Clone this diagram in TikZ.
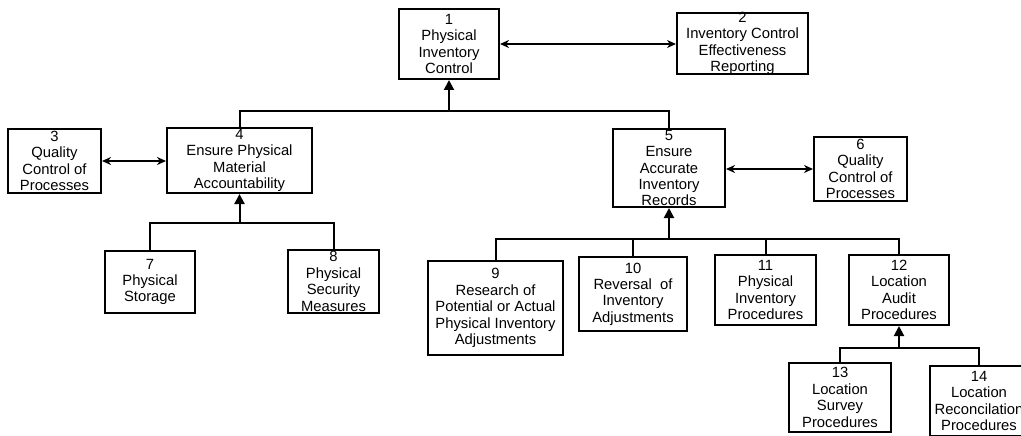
\documentclass[tikz,border=0pt]{standalone}
\usepackage{fontspec}
\setmainfont{Liberation Sans}
\usetikzlibrary{arrows.meta}

\begin{document}
\begin{tikzpicture}[x=1pt, y=-1pt,
        box/.style={draw, line width=2pt, inner sep=0pt},
        txt/.style={align=center, inner sep=0pt, font=\fontsize{14.8}{16.4}\selectfont},
        link/.style={line width=2pt},
        tree/.style={line width=2pt, -{Triangle[width=10pt, length=10pt]}},
        dbl/.style={line width=2pt, {Stealth[length=9pt, width=8pt]}-{Stealth[length=9pt, width=8pt]}}]
            \clip (0,0) rectangle (1021,436);

            % top level
            \node[box, minimum width=100pt, minimum height=70pt] (n1) at (449,44) {};
            \node[txt] at (n1) {1\\Physical\\Inventory\\Control};
            \node[box, minimum width=131pt, minimum height=61pt] (n2) at (742.5,43.5) {};
            \node[txt] at (n2) {2\\Inventory Control\\Effectiveness\\Reporting};

            % second level
            \node[box, minimum width=93pt, minimum height=64pt] (n3) at (54.5,161) {};
            \node[txt] at (n3) {3\\Quality\\Control of\\Processes};
            \node[box, minimum width=145pt, minimum height=65pt] (n4) at (239.5,160.5) {};
            \node[txt] at (n4) {4\\Ensure Physical\\Material\\Accountability};
            \node[box, minimum width=112pt, minimum height=78pt] (n5) at (669,168) {};
            \node[txt] at (n5) {5\\Ensure\\Accurate\\Inventory\\Records};
            \node[box, minimum width=93pt, minimum height=64pt] (n6) at (860.5,169) {};
            \node[txt] at (n6) {6\\Quality\\Control of\\Processes};

            % third level
            \node[box, minimum width=90pt, minimum height=62pt] (n7) at (150,282) {};
            \node[txt] at (n7) {7\\Physical\\Storage};
            \node[box, minimum width=91pt, minimum height=63pt] (n8) at (333.5,281.5) {};
            \node[txt] at (n8) {8\\Physical\\Security\\Measures};
            \node[box, minimum width=135pt, minimum height=94pt] (n9) at (495.5,308) {};
            \node[txt] at (n9) {9\\Research of\\Potential or Actual\\Physical Inventory\\Adjustments};
            \node[box, minimum width=108pt, minimum height=74pt] (n10) at (633,294) {};
            \node[txt] at (n10) {10\\Reversal\ \ of\\Inventory\\Adjustments};
            \node[box, minimum width=101pt, minimum height=70pt] (n11) at (765.5,290) {};
            \node[txt] at (n11) {11\\Physical\\Inventory\\Procedures};
            \node[box, minimum width=100pt, minimum height=70pt] (n12) at (899,290) {};
            \node[txt] at (n12) {12\\Location\\Audit\\Procedures};

            % fourth level
            \node[box, minimum width=102pt, minimum height=69pt] (n13) at (840,397.5) {};
            \node[txt] at (n13) {13\\Location\\Survey\\Procedures};
            \node[box, minimum width=98pt, minimum height=70pt] (n14) at (979,401) {};
            \node[txt] at (n14) {14\\Location\\Reconcilation\\Procedures};

            % junctions
            \coordinate (bus1) at (449,111);
            \coordinate (bus4) at (239.5,223);
            \coordinate (bus5) at (669,239);
            \coordinate (bus12) at (899,348);

            \draw[dbl] (n1.east |- n1) -- (n1 -| n2.west);
            \draw[dbl] (n3.east) -- (n3 -| n4.west);
            \draw[dbl] (n5.east |- n6) -- (n6.west);

            \draw[link] (n4.north) |- (bus1) -| (n5.north);
            \draw[tree] (bus1) -- (n1.south);

            \draw[link] (n7.north) |- (bus4) -| (n8.north);
            \draw[tree] (bus4) -- (n4.south);

            \draw[link] (n9.north) |- (bus5) -| (n12.north);
            \draw[link] (n10.north) -- (n10.north |- bus5);
            \draw[link] (n11.north) -- (n11.north |- bus5);
            \draw[tree] (bus5) -- (n5.south);

            \draw[link] (n13.north) |- (bus12) -| (n14.north);
            \draw[tree] (bus12) -- (n12.south);
        \end{tikzpicture}
\end{document}
